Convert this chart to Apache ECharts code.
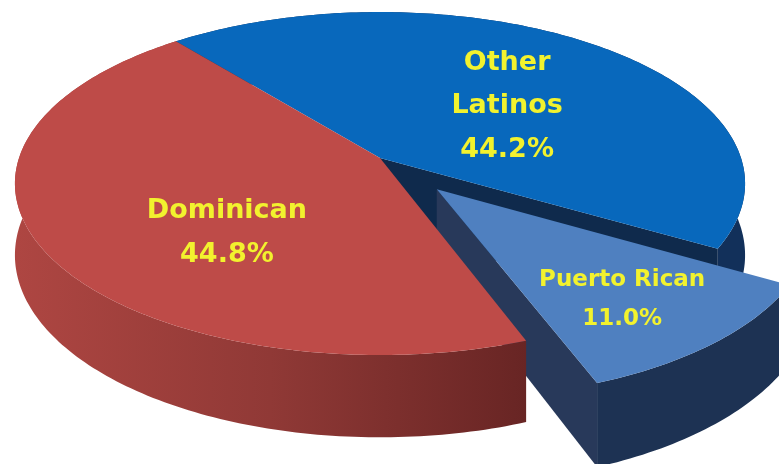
<!DOCTYPE html>
<html><head><meta charset="utf-8">
<script src="https://cdn.jsdelivr.net/npm/echarts@6/dist/echarts.min.js"></script>
<style>html,body{margin:0;padding:0;background:#fff}#c{width:779px;height:464px}</style>
</head><body><div id="c"></div>
<script>
// ---- data ----
const categories = ['Other Latinos', 'Puerto Rican', 'Dominican'];
const values = [44.2, 11.0, 44.8];
const labelNames = ['Other\nLatinos', 'Puerto Rican', 'Dominican'];

// ---- styles / layout ----
const topColors = ['#0868BC', '#4F80C0', '#BE4B48'];
const wallColors = ['#12305A', '#1D3253', null];
const cutColors = ['#0F2A4C', '#28395A', '#7A2E2C'];
const explode = [0, 0.237, 0];
const labelR = [0.49, 0.72, 0.577];
const labelDA = [8.4, 2.2, -16.7];
const labelSize = [27, 23, 27];
const labelLH = [43.5, 39, 44];
const START = 230.9;           // degrees, clockwise from east (screen)
const cx = 380, cy = 158, A = 361, B = 167.7, K = 0.149, T = 70;

const total = values.reduce((a, b) => a + b, 0);
const cum = [];
values.reduce((acc, v, i) => { cum[i] = acc; return acc + v; }, 0);

function proj(u, v, down) {
  const w = 1 - K * v;
  return [cx + A * u / w, cy + B * v / w + (down ? T / w : 0)];
}
function rim(a0, a1, ox, oy, down) {
  const pts = [];
  const n = Math.max(2, Math.ceil(Math.abs(a1 - a0)));
  for (let i = 0; i <= n; i++) {
    const a = (a0 + (a1 - a0) * i / n) * Math.PI / 180;
    pts.push(proj(ox + Math.cos(a), oy + Math.sin(a), down));
  }
  return pts;
}
function cut(a, ox, oy) {
  const r = a * Math.PI / 180;
  const u = ox + Math.cos(r), v = oy + Math.sin(r);
  return [proj(ox, oy, false), proj(u, v, false), proj(u, v, true), proj(ox, oy, true)];
}

function renderItem(params, api) {
  const i = params.dataIndex;
  const a0 = START + 360 * cum[i] / total;
  const a1 = a0 + 360 * values[i] / total;
  const mid = (a0 + a1) / 2;
  const mr = mid * Math.PI / 180;
  const ox = explode[i] * Math.cos(mr), oy = explode[i] * Math.sin(mr);
  const base = i * 10;
  const children = [];
  // outer wall
  const wallTop = rim(a0, a1, ox, oy, false);
  const wallBot = rim(a0, a1, ox, oy, true).reverse();
  let wallFill = wallColors[i];
  if (!wallFill) {
    wallFill = new echarts.graphic.LinearGradient(0, 0, 1, 0, [
      { offset: 0, color: '#AE4642' },
      { offset: 0.5, color: '#903936' },
      { offset: 1, color: '#682524' }
    ]);
  }
  children.push({ type: 'polygon', z2: base + 1, shape: { points: wallTop.concat(wallBot) }, style: { fill: wallFill } });
  // cut faces next to a gap, only when facing the viewer
  const n = values.length;
  const prev = (i - 1 + n) % n, next = (i + 1) % n;
  const r0 = a0 * Math.PI / 180, r1 = a1 * Math.PI / 180;
  if ((explode[i] > 0 || explode[prev] > 0) && Math.cos(r0) < 0) {
    children.push({ type: 'polygon', z2: base + 2, shape: { points: cut(a0, ox, oy) }, style: { fill: cutColors[i] } });
  }
  if ((explode[i] > 0 || explode[next] > 0) && Math.cos(r1) > 0) {
    children.push({ type: 'polygon', z2: base + 3, shape: { points: cut(a1, ox, oy) }, style: { fill: cutColors[i] } });
  }
  // top
  children.push({ type: 'polygon', z2: base + 4, shape: { points: [proj(ox, oy, false)].concat(rim(a0, a1, ox, oy, false)) }, style: { fill: topColors[i] } });
  // label
  const la = (mid + labelDA[i]) * Math.PI / 180;
  const lp = proj(ox + labelR[i] * Math.cos(la), oy + labelR[i] * Math.sin(la), false);
  children.push({
    type: 'text', z2: 100, x: lp[0], y: lp[1],
    style: {
      text: labelNames[i] + '\n' + api.value(0).toFixed(1) + '%',
      fill: '#F2F22E', fontFamily: 'DejaVu Sans', fontWeight: 'bold',
      fontSize: labelSize[i], lineHeight: labelLH[i],
      align: 'center', verticalAlign: 'middle'
    }
  });
  return { type: 'group', children };
}

const chart = echarts.init(document.getElementById('c'), null, { renderer: 'canvas' });
chart.setOption({
  backgroundColor: '#ffffff',
  animation: false,
  series: [{
    type: 'custom',
    coordinateSystem: 'none',
    silent: true,
    renderItem,
    data: values.map((v, i) => ({ name: categories[i], value: [v] }))
  }]
});
</script>
</body></html>
